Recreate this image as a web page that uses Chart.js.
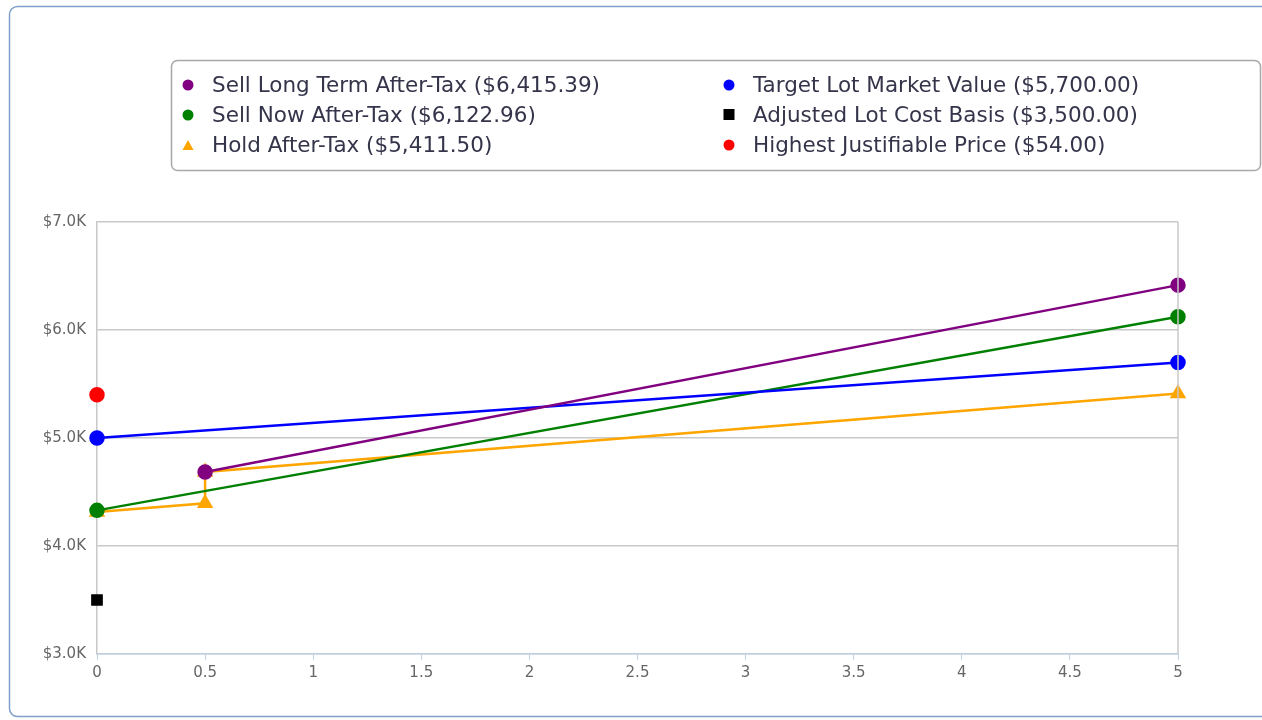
<!DOCTYPE html>
<html>
<head>
<meta charset="utf-8">
<script src="https://cdn.jsdelivr.net/npm/chart.js@4/dist/chart.umd.min.js"></script>
<style>
  html, body { margin: 0; padding: 0; background: #fff; }
  #wrap { width: 1262px; height: 720px; position: relative; }
</style>
</head>
<body>
<div id="wrap"><canvas id="taxChart"></canvas></div>
<script>
// series data (x = years, y = dollars)
const sellLongX = [0.5, 5];
const sellLongY = [4685, 6415.39];
const targetX = [0, 5];
const targetY = [5000, 5700];
const sellNowX = [0, 5];
const sellNowY = [4330, 6122.96];
const costX = [0];
const costY = [3500];
const holdX = [0, 0.5, 0.5, 5];
const holdY = [4315, 4395, 4685, 5411.5];
const highestX = [0];
const highestY = [5400];

const seriesNames = [
    'Sell Long Term After-Tax ($6,415.39)',
    'Target Lot Market Value ($5,700.00)',
    'Sell Now After-Tax ($6,122.96)',
    'Adjusted Lot Cost Basis ($3,500.00)',
    'Hold After-Tax ($5,411.50)',
    'Highest Justifiable Price ($54.00)'
];
const yTicks = [3000, 4000, 5000, 6000, 7000];

function pts(xs, ys) {
    return xs.map((x, i) => ({ x: x, y: ys[i] }));
}

function series(label, xs, ys, color, style, showLine) {
    return {
        label: label,
        data: pts(xs, ys),
        borderColor: color,
        backgroundColor: color,
        pointBackgroundColor: color,
        pointBorderColor: color,
        pointStyle: style,
        pointRadius: style === 'triangle' ? 7 : 6.5,
        pointHoverRadius: 7,
        borderWidth: 2.5,
        showLine: showLine,
        tension: 0,
        clip: false
    };
}

// chart frame + legend box
const framePlugin = {
    id: 'frame',
    beforeDraw(chart) {
        const ctx = chart.ctx;
        ctx.save();
        ctx.fillStyle = '#fff';
        ctx.fillRect(0, 0, chart.width, chart.height);
        ctx.strokeStyle = '#7f9fcb';
        ctx.lineWidth = 1.5;
        ctx.beginPath();
        ctx.roundRect(9.5, 6.5, 1270, 710, 8);
        ctx.stroke();
        ctx.restore();
    },
    afterDraw(chart) {
        const ctx = chart.ctx;
        const a = chart.chartArea;
        ctx.save();
        // plot border right side
        ctx.strokeStyle = '#c8c8c8';
        ctx.lineWidth = 1.5;
        ctx.beginPath();
        ctx.moveTo(a.right, a.top);
        ctx.lineTo(a.right, a.bottom);
        ctx.stroke();

        // legend
        ctx.strokeStyle = '#a8a8a8';
        ctx.lineWidth = 1.5;
        ctx.beginPath();
        ctx.roundRect(171.5, 60.5, 1089, 110, 6);
        ctx.stroke();

        ctx.font = '21.5px "DejaVu Sans"';
        ctx.textBaseline = 'middle';
        ctx.textAlign = 'left';
        chart.data.datasets.forEach((ds, i) => {
            const col = i % 2, row = Math.floor(i / 2);
            const mx = col === 0 ? 188 : 729;
            const my = 85 + row * 30;
            ctx.fillStyle = ds.borderColor;
            ctx.beginPath();
            if (ds.pointStyle === 'rect') {
                ctx.fillRect(mx - 5.5, my - 6, 11, 11);
            } else if (ds.pointStyle === 'triangle') {
                ctx.moveTo(mx, my - 5);
                ctx.lineTo(mx + 5.5, my + 5);
                ctx.lineTo(mx - 5.5, my + 5);
                ctx.closePath();
                ctx.fill();
            } else {
                ctx.arc(mx, my, 5.5, 0, Math.PI * 2);
                ctx.fill();
            }
            ctx.fillStyle = '#34344a';
            ctx.fillText(ds.label, mx + 24, my + 1);
        });
        ctx.restore();
    }
};

const ctx = document.getElementById('taxChart').getContext('2d');
new Chart(ctx, {
    type: 'line',
    data: {
        datasets: [
            series(seriesNames[0], sellLongX, sellLongY, '#800080', 'circle', true),
            series(seriesNames[1], targetX, targetY, '#0000ff', 'circle', true),
            series(seriesNames[2], sellNowX, sellNowY, '#008000', 'circle', true),
            series(seriesNames[3], costX, costY, '#000000', 'rect', false),
            series(seriesNames[4], holdX, holdY, '#ffa500', 'triangle', true),
            series(seriesNames[5], highestX, highestY, '#ff0000', 'circle', false)
        ]
    },
    options: {
        responsive: true,
        maintainAspectRatio: false,
        animation: false,
        layout: {
            padding: { left: 0, top: 222, right: 84, bottom: 0 }
        },
        plugins: {
            legend: { display: false },
            tooltip: { enabled: true }
        },
        scales: {
            x: {
                type: 'linear',
                min: 0,
                max: 5,
                afterFit(scale) { scale.height = 66; },
                grid: {
                    drawOnChartArea: false,
                    drawTicks: true,
                    tickLength: 6,
                    color: '#c0d0e0'
                },
                border: { color: '#c0d0e0', width: 1.5 },
                ticks: {
                    stepSize: 0.5,
                    padding: 4,
                    color: '#666',
                    font: { family: 'DejaVu Sans', size: 15 },
                    callback: v => String(v)
                }
            },
            y: {
                min: yTicks[0],
                max: yTicks[yTicks.length - 1],
                afterFit(scale) { scale.width = 97; },
                afterBuildTicks(scale) {
                    scale.ticks = yTicks.map(v => ({ value: v }));
                },
                grid: {
                    drawTicks: false,
                    color: '#c8c8c8',
                    lineWidth: 1.5
                },
                border: { color: '#c8c8c8', width: 1.5 },
                ticks: {
                    padding: 11,
                    color: '#666',
                    font: { family: 'DejaVu Sans', size: 15 },
                    callback: v => '$' + (v / 1000).toFixed(1) + 'K'
                }
            }
        }
    },
    plugins: [framePlugin]
});
</script>
</body>
</html>
